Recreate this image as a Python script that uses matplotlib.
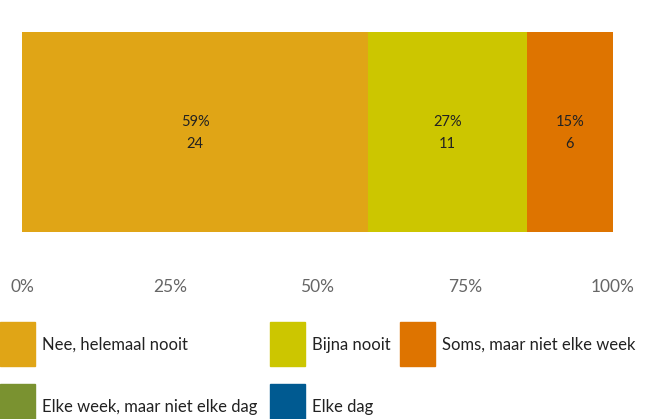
import matplotlib.pyplot as plt
from matplotlib.patches import Rectangle

plt.rcParams['font.family'] = ['Lato', 'DejaVu Sans']

# Data
categories = ["Nee, helemaal nooit", "Bijna nooit", "Soms, maar niet elke week",
              "Elke week, maar niet elke dag", "Elke dag"]
counts = [24, 11, 6, 0, 0]
colors = ["#E0A516", "#CCC600", "#DE7400", "#7A9230", "#005A91"]
tick_values = [0, 25, 50, 75, 100]
tick_labels = ["0%", "25%", "50%", "75%", "100%"]

W, H = 648, 419
fig = plt.figure(figsize=(W / 100, H / 100), dpi=100)
ax = fig.add_axes([22 / W, (H - 232) / H, (613 - 22) / W, 200 / H])

total = sum(counts)
left = 0
for cat, n, col in zip(categories, counts, colors):
    if n == 0:
        continue
    pct = n / total * 100
    ax.barh(0, pct, left=left, height=1, color=col, edgecolor='none')
    cx = left + pct / 2
    ax.text(cx, 0.05, f"{round(pct)}%", ha='center', va='center', fontsize=10.5, color='#222222')
    ax.text(cx, -0.06, str(n), ha='center', va='center', fontsize=10.5, color='#222222')
    left += pct

ax.set_xlim(0, 100)
ax.set_ylim(-0.5, 0.5)
ax.set_yticks([])
ax.set_xticks(tick_values)
ax.set_xticklabels(tick_labels, fontsize=12.5, color='#666666')
ax.tick_params(axis='x', length=0, pad=34)
for s in ax.spines.values():
    s.set_visible(False)

# Legend drawn manually in pixel positions
legend_pos = [(0, 322), (270, 322), (400, 322), (0, 384), (270, 384)]
for (x, y), cat, col in zip(legend_pos, categories, colors):
    fig.patches.append(Rectangle((x / W, (H - y - 44) / H), 35 / W, 44 / H,
                                 transform=fig.transFigure, color=col, zorder=1))
    fig.text((x + 42) / W, (H - y - 23) / H, cat, ha='left', va='center',
             fontsize=12, color='#222222')

fig.savefig("out.png", dpi=100)
